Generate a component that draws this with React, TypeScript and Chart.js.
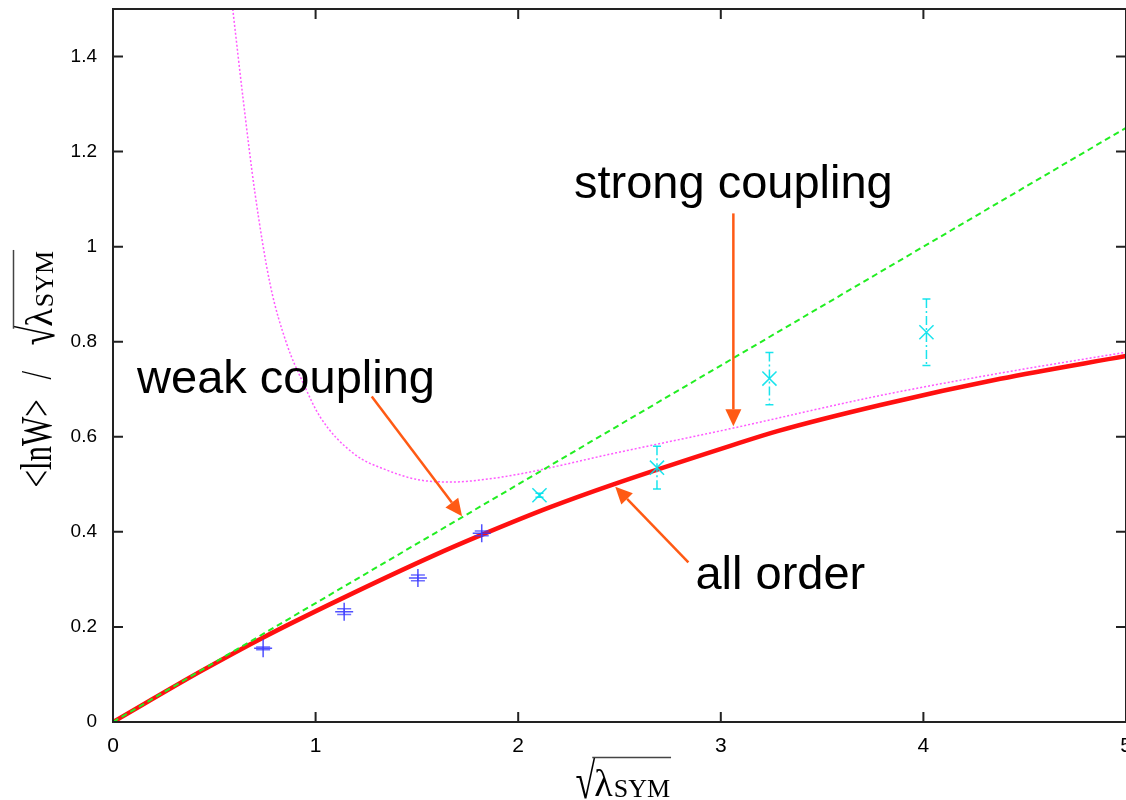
import React, { useEffect, useRef } from 'react';
import { Chart, registerables } from 'chart.js';

Chart.register(...registerables);

// Axis ticks
const xTicks = [0, 1, 2, 3, 4, 5];
const xTickLabels = ['0', '1', '2', '3', '4', '5'];
const yTicks = [0, 0.2, 0.4, 0.6, 0.8, 1, 1.2, 1.4];
const yTickLabels = ['0', '0.2', '0.4', '0.6', '0.8', '1', '1.2', '1.4'];

// All-order result (thick red curve)
const allOrderX = [0, 0.43, 0.742, 1.121, 1.582, 1.81, 2.158, 2.47, 3.047, 3.28, 3.788, 4.38, 5.0];
const allOrderY = [0, 0.106, 0.178, 0.258, 0.35, 0.392, 0.452, 0.5, 0.581, 0.612, 0.667, 0.722, 0.77];

// Weak-coupling leading term (green dashed line)
const weakX = [0, 5];
const weakY = [0, 1.25];

// Strong-coupling expansion (magenta dotted curve)
const strongX = [0.591, 0.643, 0.7, 0.775, 0.857, 0.94, 1.022, 1.187, 1.351, 1.516, 1.68, 1.81, 2.01, 2.47, 3.047, 3.788, 4.38, 5.0];
const strongY = [1.5, 1.308, 1.115, 0.922, 0.796, 0.712, 0.642, 0.565, 0.53, 0.509, 0.505, 0.509, 0.522, 0.565, 0.617, 0.687, 0.734, 0.778];

// Lattice data, small coupling (blue pluses)
const blueX = [0.741, 1.141, 1.505, 1.82];
const blueY = [0.155, 0.232, 0.303, 0.397];
const blueErr = [0.003, 0.006, 0.006, 0.005];

// Lattice data, larger coupling (cyan crosses)
const cyanX = [2.105, 2.685, 3.24, 4.015];
const cyanY = [0.477, 0.535, 0.7225, 0.82];
const cyanErr = [0.004, 0.045, 0.055, 0.07];

// Annotation labels and arrows, in data coordinates
const labelTexts = ['strong coupling', 'weak coupling', 'all order'];
const labelX = [3.062, 0.854, 3.294];
const labelY = [1.1015, 0.6916, 0.2796];
const arrowFromX = [3.062, 1.277, 2.84];
const arrowFromY = [1.07, 0.685, 0.336];
const arrowToX = [3.062, 1.723, 2.479];
const arrowToY = [0.622, 0.433, 0.495];

const SANS = "'Liberation Sans', Arial, sans-serif";
const NARROW = "'Liberation Sans Narrow', 'Arial Narrow', 'Liberation Sans', Arial, sans-serif";
const SERIF = "'Liberation Serif', 'Times New Roman', serif";
const ARROW_COLOR = '#ff5a14';
const FRAME_COLOR = '#222222';

const pts = (xs: number[], ys: number[]) => xs.map((x, i) => ({ x, y: ys[i] }));

// Draws "√λ_SYM" with an overline starting at (x0, baseline); returns width.
function drawRootLambda(ctx: CanvasRenderingContext2D, x0: number, baseline: number) {
  ctx.textAlign = 'left';
  ctx.textBaseline = 'alphabetic';
  ctx.font = `36px ${SERIF}`;
  const wRoot = ctx.measureText('√').width;
  ctx.save();
  ctx.translate(x0, baseline + 2);
  ctx.scale(1, 1.42);
  ctx.fillText('√', 0, 0);
  ctx.restore();
  ctx.font = `38px ${SERIF}`;
  const xl = x0 + wRoot - 1;
  ctx.fillText('λ', xl, baseline);
  const wl = ctx.measureText('λ').width;
  ctx.font = `26px ${SERIF}`;
  ctx.fillText('SYM', xl + wl + 1, baseline + 1);
  const ws = ctx.measureText('SYM').width;
  const end = xl + wl + ws + 2;
  ctx.beginPath();
  ctx.strokeStyle = '#444';
  ctx.lineWidth = 1.5;
  ctx.moveTo(xl - 2, baseline - 38.5);
  ctx.lineTo(end, baseline - 38.5);
  ctx.stroke();
  return end - x0;
}

const framePlugin = {
  id: 'frameTicks',
  afterDatasetsDraw(chart: any) {
    const { ctx, chartArea } = chart;
    const { left, right, top, bottom } = chartArea;
    const xs = chart.scales.x;
    const ys = chart.scales.y;
    ctx.save();
    ctx.strokeStyle = FRAME_COLOR;
    ctx.lineWidth = 2;
    ctx.beginPath();
    for (const v of xTicks) {
      const px = xs.getPixelForValue(v);
      ctx.moveTo(px, bottom);
      ctx.lineTo(px, bottom - 10);
      ctx.moveTo(px, top);
      ctx.lineTo(px, top + 10);
    }
    for (const v of yTicks) {
      const py = ys.getPixelForValue(v);
      ctx.moveTo(left, py);
      ctx.lineTo(left + 10, py);
      ctx.moveTo(right, py);
      ctx.lineTo(right - 10, py);
    }
    ctx.stroke();
    ctx.strokeRect(left, top, right - left, bottom - top);
    ctx.restore();
  },
};

function drawErrBars(chart: any, xsArr: number[], ysArr: number[], errs: number[], color: string, cap: number, dash: number[]) {
  const { ctx } = chart;
  const xs = chart.scales.x;
  const ys = chart.scales.y;
  ctx.save();
  ctx.strokeStyle = color;
  ctx.lineWidth = 1.5;
  xsArr.forEach((xv, i) => {
    const px = xs.getPixelForValue(xv);
    const p1 = ys.getPixelForValue(ysArr[i] + errs[i]);
    const p2 = ys.getPixelForValue(ysArr[i] - errs[i]);
    ctx.setLineDash(dash);
    ctx.beginPath();
    ctx.moveTo(px, p1);
    ctx.lineTo(px, p2);
    ctx.stroke();
    ctx.setLineDash([]);
    ctx.beginPath();
    ctx.moveTo(px - cap, p1);
    ctx.lineTo(px + cap, p1);
    ctx.moveTo(px - cap, p2);
    ctx.lineTo(px + cap, p2);
    ctx.stroke();
  });
  ctx.restore();
}

const errorBarPlugin = {
  id: 'errorBars',
  afterDatasetsDraw(chart: any) {
    drawErrBars(chart, blueX, blueY, blueErr, 'rgba(60,60,255,0.75)', 7, []);
    drawErrBars(chart, cyanX, cyanY, cyanErr, 'rgba(0,225,235,0.9)', 4, [9, 3, 2, 3]);
  },
};

const annotationPlugin = {
  id: 'annotations',
  afterDraw(chart: any) {
    const { ctx } = chart;
    const xs = chart.scales.x;
    const ys = chart.scales.y;
    ctx.save();
    for (let i = 0; i < arrowFromX.length; i++) {
      const x1 = xs.getPixelForValue(arrowFromX[i]);
      const y1 = ys.getPixelForValue(arrowFromY[i]);
      const x2 = xs.getPixelForValue(arrowToX[i]);
      const y2 = ys.getPixelForValue(arrowToY[i]);
      const ang = Math.atan2(y2 - y1, x2 - x1);
      const headLen = 17;
      const headHalf = 8;
      const bx = x2 - headLen * Math.cos(ang);
      const by = y2 - headLen * Math.sin(ang);
      ctx.strokeStyle = ARROW_COLOR;
      ctx.fillStyle = ARROW_COLOR;
      ctx.lineWidth = 2.5;
      ctx.beginPath();
      ctx.moveTo(x1, y1);
      ctx.lineTo(bx, by);
      ctx.stroke();
      ctx.beginPath();
      ctx.moveTo(x2, y2);
      ctx.lineTo(bx + headHalf * Math.sin(ang), by - headHalf * Math.cos(ang));
      ctx.lineTo(bx - headHalf * Math.sin(ang), by + headHalf * Math.cos(ang));
      ctx.closePath();
      ctx.fill();
    }
    ctx.fillStyle = '#000';
    ctx.font = `47px ${SANS}`;
    ctx.textAlign = 'center';
    ctx.textBaseline = 'alphabetic';
    labelTexts.forEach((t, i) => {
      ctx.fillText(t, xs.getPixelForValue(labelX[i]), ys.getPixelForValue(labelY[i]));
    });
    ctx.restore();
  },
};

const axisTitlePlugin = {
  id: 'axisTitles',
  afterDraw(chart: any) {
    const { ctx, chartArea } = chart;
    ctx.save();
    ctx.fillStyle = '#000';
    // x-axis title
    const xStart = (chartArea.left + chartArea.right) / 2 - 44;
    drawRootLambda(ctx, xStart, chartArea.bottom + 74);
    // y-axis title, rotated
    ctx.translate(51, (chartArea.top + chartArea.bottom) / 2 + 122);
    ctx.rotate(-Math.PI / 2);
    ctx.save();
    ctx.scale(1, 1.45);
    ctx.font = `31px ${SERIF}`;
    ctx.textAlign = 'left';
    ctx.textBaseline = 'alphabetic';
    ctx.fillText('<lnW>', 0, 0);
    ctx.fillText('/', 108, 0);
    ctx.restore();
    drawRootLambda(ctx, 142, 1);
    ctx.restore();
  },
};

export default function App() {
  const ref = useRef<HTMLCanvasElement | null>(null);

  useEffect(() => {
    const canvas = ref.current;
    if (!canvas) return;
    const chart = new Chart(canvas, {
      type: 'line',
      data: {
        datasets: [
          {
            label: 'lattice small',
            data: pts(blueX, blueY),
            showLine: false,
            pointStyle: 'cross',
            pointRadius: 9,
            pointBorderWidth: 1.5,
            borderColor: 'rgba(50,50,255,0.85)',
            backgroundColor: 'rgba(50,50,255,0.85)',
          },
          {
            label: 'lattice large',
            data: pts(cyanX, cyanY),
            showLine: false,
            pointStyle: 'crossRot',
            pointRadius: 10,
            pointBorderWidth: 1.5,
            borderColor: 'rgba(0,225,235,0.9)',
            backgroundColor: 'rgba(0,225,235,0.9)',
          },
          {
            label: 'weak coupling',
            data: pts(weakX, weakY),
            borderColor: '#22ee22',
            borderWidth: 2,
            borderDash: [6, 4],
            pointRadius: 0,
            clip: 0,
          },
          {
            label: 'strong coupling',
            data: pts(strongX, strongY),
            borderColor: 'rgba(255,60,255,0.85)',
            borderWidth: 1.5,
            borderDash: [2, 2],
            pointRadius: 0,
            cubicInterpolationMode: 'monotone',
            clip: 0,
          },
          {
            label: 'all order',
            data: pts(allOrderX, allOrderY),
            borderColor: '#ff1010',
            borderWidth: 4.5,
            pointRadius: 0,
            cubicInterpolationMode: 'monotone',
            clip: 0,
          },
        ],
      },
      options: {
        animation: false,
        responsive: false,
        events: [],
        layout: { autoPadding: false, padding: { top: 9, right: 20, left: 0, bottom: 0 } },
        plugins: {
          legend: { display: false },
          title: { display: false },
          subtitle: { display: false },
          tooltip: { enabled: false },
        },
        scales: {
          x: {
            type: 'linear',
            min: 0,
            max: 5,
            grid: { display: false, drawTicks: false },
            border: { display: false },
            afterBuildTicks: (s: any) => {
              s.ticks = xTicks.map((v) => ({ value: v }));
            },
            afterFit: (s: any) => {
              s.height = 78;
              s.paddingLeft = 0;
              s.paddingRight = 0;
              s.paddingTop = 0;
              s.paddingBottom = 0;
            },
            ticks: {
              padding: 12,
              color: '#000',
              font: { family: NARROW, size: 21 },
              callback: (v: any) => xTickLabels[xTicks.indexOf(Number(v))] ?? '',
              maxRotation: 0,
              autoSkip: false,
            },
          },
          y: {
            type: 'linear',
            min: 0,
            max: 1.5,
            grid: { display: false, drawTicks: false },
            border: { display: false },
            afterBuildTicks: (s: any) => {
              s.ticks = yTicks.map((v) => ({ value: v }));
            },
            afterFit: (s: any) => {
              s.width = 113;
              s.paddingLeft = 0;
              s.paddingRight = 0;
              s.paddingTop = 0;
              s.paddingBottom = 0;
            },
            ticks: {
              padding: 16,
              color: '#000',
              font: { family: SANS, size: 19 },
              callback: (v: any) => {
                const i = yTicks.findIndex((t) => Math.abs(t - Number(v)) < 1e-9);
                return i >= 0 ? yTickLabels[i] : '';
              },
              autoSkip: false,
            },
          },
        },
      },
      plugins: [errorBarPlugin, framePlugin, annotationPlugin, axisTitlePlugin],
    } as any);
    return () => chart.destroy();
  }, []);

  return (
    <div
      style={{
        position: 'fixed',
        left: 0,
        top: 0,
        width: 1126,
        height: 800,
        overflow: 'hidden',
        background: '#fff',
      }}
    >
      <canvas ref={ref} width={1146} height={800} style={{ display: 'block' }} />
    </div>
  );
}
